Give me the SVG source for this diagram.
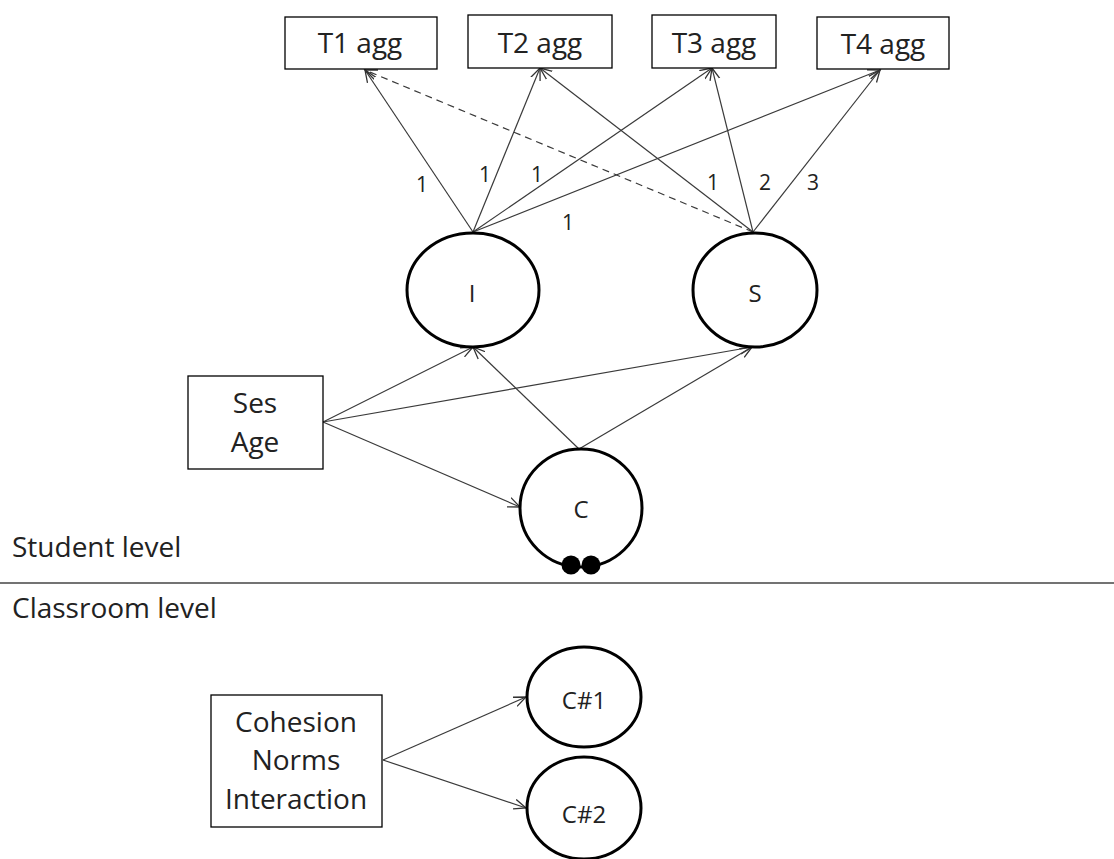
<svg xmlns="http://www.w3.org/2000/svg" width="1114" height="859" viewBox="0 0 1114 859">
<defs>
<marker id="arr" markerUnits="userSpaceOnUse" markerWidth="14" markerHeight="12" refX="12" refY="6" orient="auto" viewBox="0 0 14 12">
<path d="M0,1 L12,6 L0,11" fill="none" stroke="#333" stroke-width="1.3"/>
</marker>
<style>
.box{fill:#fff;stroke:#000;stroke-width:1.3}
.ell{fill:#fff;stroke:#000;stroke-width:3}
.t{font-family:"Open Sans","Liberation Sans",sans-serif;fill:#222}
.big{font-size:28px;text-anchor:middle}
.lvl{font-size:28px}
.mid{font-size:24px;text-anchor:middle}
.lab{font-size:21px;text-anchor:middle}
.c{fill:none;stroke:#3a3a3a;stroke-width:1.2;marker-end:url(#arr)}
.d{stroke-dasharray:7,5}
</style>
</defs>
<rect width="1114" height="859" fill="#fff"/>
<g id="connectors">
<line class="c" x1="473" y1="232" x2="365" y2="70"/>
<line class="c" x1="473" y1="232" x2="540" y2="68"/>
<line class="c" x1="473" y1="232" x2="712" y2="68"/>
<line class="c" x1="473" y1="232" x2="880" y2="70"/>
<line class="c d" x1="753" y1="232" x2="365" y2="70"/>
<line class="c" x1="753" y1="232" x2="540" y2="68"/>
<line class="c" x1="753" y1="232" x2="712" y2="68"/>
<line class="c" x1="753" y1="232" x2="880" y2="70"/>
<line class="c" x1="323" y1="422" x2="473" y2="347"/>
<line class="c" x1="323" y1="422" x2="752" y2="347"/>
<line class="c" x1="323" y1="422" x2="520" y2="507"/>
<line class="c" x1="579" y1="449" x2="473" y2="347"/>
<line class="c" x1="579" y1="449" x2="752" y2="347"/>
<line class="c" x1="383" y1="760" x2="526" y2="697"/>
<line class="c" x1="383" y1="760" x2="526" y2="808"/>
<text class="t lab" x="422" y="192">1</text>
<text class="t lab" x="485" y="182">1</text>
<text class="t lab" x="537" y="182">1</text>
<text class="t lab" x="568" y="230">1</text>
<text class="t lab" x="713" y="190">1</text>
<text class="t lab" x="765" y="190">2</text>
<text class="t lab" x="813" y="190">3</text>
</g>
<g id="T1"><rect class="box" x="285" y="17" width="152" height="52"/><text class="t big" x="360" y="53">T1 agg</text></g>
<g id="T2"><rect class="box" x="468" y="15" width="144" height="53"/><text class="t big" x="540" y="53">T2 agg</text></g>
<g id="T3"><rect class="box" x="652" y="15" width="124" height="53"/><text class="t big" x="714" y="53">T3 agg</text></g>
<g id="T4"><rect class="box" x="817" y="17" width="132" height="52"/><text class="t big" x="883" y="54">T4 agg</text></g>
<g id="I"><ellipse class="ell" cx="473" cy="290" rx="66" ry="57"/><text class="t mid" x="472" y="302">I</text></g>
<g id="S"><ellipse class="ell" cx="755" cy="290" rx="62" ry="57"/><text class="t mid" x="755" y="302">S</text></g>
<g id="SesAge"><rect class="box" x="188" y="376" width="135" height="93"/><text class="t big" x="255" y="413">Ses</text><text class="t big" x="255" y="452">Age</text></g>
<g id="C"><ellipse class="ell" cx="581" cy="508" rx="61" ry="59"/><text class="t mid" x="581" y="518">C</text><circle cx="571" cy="565" r="9.5" fill="#000"/><circle cx="591" cy="565" r="9.5" fill="#000"/></g>
<g id="levels">
<text class="t lvl" x="12" y="557">Student level</text>
<line x1="0" y1="583" x2="1114" y2="583" stroke="#444" stroke-width="1.5"/>
<text class="t lvl" x="12" y="618">Classroom level</text>
</g>
<g id="Cohesion"><rect class="box" x="211" y="695" width="171" height="132"/><text class="t big" x="296" y="732">Cohesion</text><text class="t big" x="296" y="770">Norms</text><text class="t big" x="296" y="809">Interaction</text></g>
<g id="C1"><ellipse class="ell" cx="584" cy="697" rx="57" ry="50"/><text class="t mid" x="584" y="709">C#1</text></g>
<g id="C2"><ellipse class="ell" cx="584" cy="808" rx="57" ry="51"/><text class="t mid" x="584" y="823">C#2</text></g>
</svg>
